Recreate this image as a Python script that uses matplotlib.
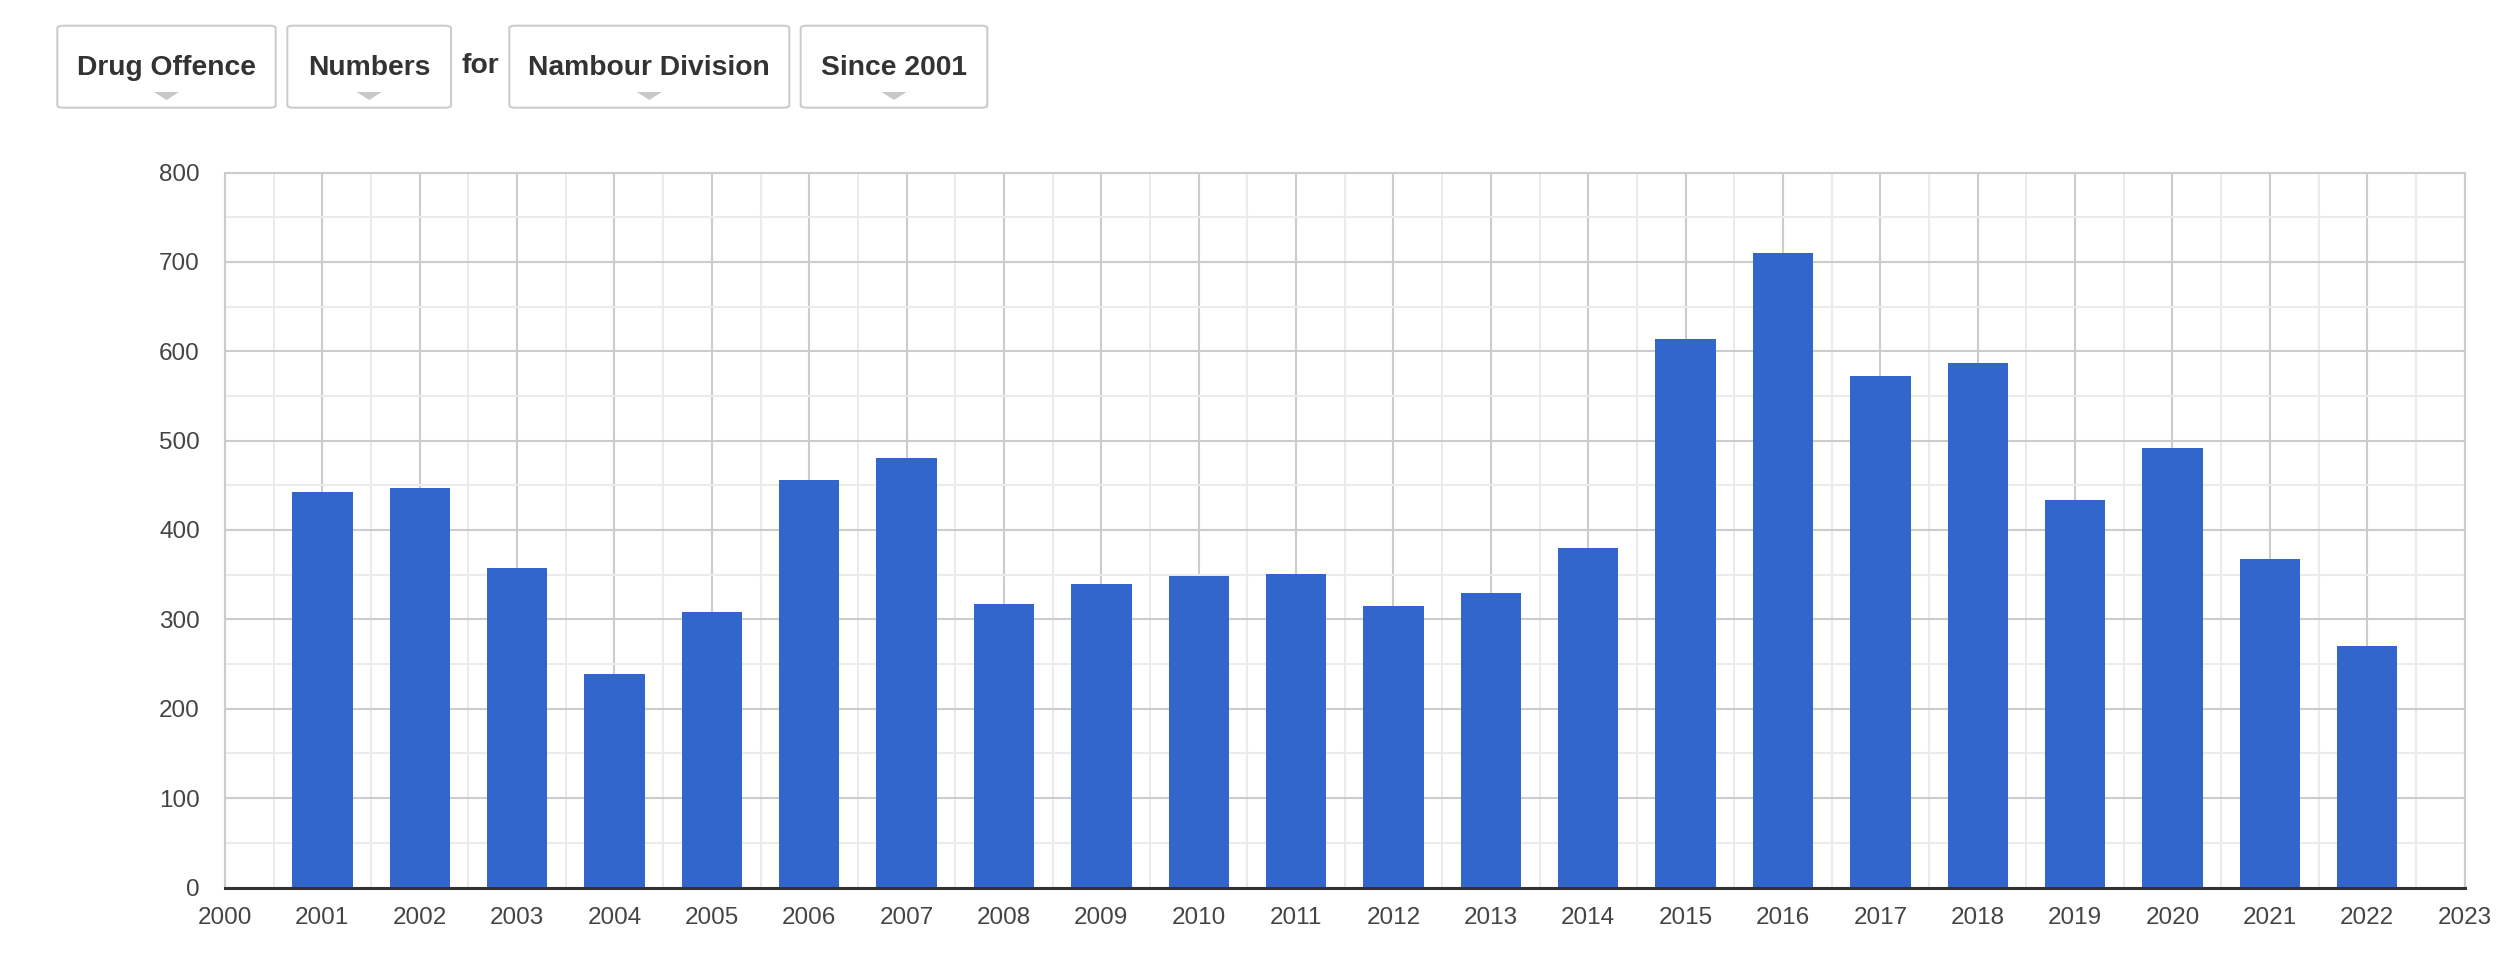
import matplotlib
matplotlib.use("Agg")
import matplotlib.pyplot as plt
from matplotlib.patches import FancyBboxPatch, Polygon
from matplotlib.ticker import MultipleLocator

plt.rcParams['font.family'] = ['Liberation Sans', 'DejaVu Sans']

# ---- data ----
years = [2001, 2002, 2003, 2004, 2005, 2006, 2007, 2008, 2009, 2010, 2011,
         2012, 2013, 2014, 2015, 2016, 2017, 2018, 2019, 2020, 2021, 2022]
counts = [443, 447, 358, 239, 308, 456, 481, 317, 340, 349, 351,
          315, 330, 380, 614, 710, 572, 587, 434, 492, 367, 270]
button_labels = ["Drug Offence", "Numbers", "Nambour Division", "Since 2001"]
connector_word = "for"
x_ticks = list(range(2000, 2024))
y_ticks = list(range(0, 801, 100))

W, H = 2500, 958
DPI = 100
fig = plt.figure(figsize=(W / DPI, H / DPI), dpi=DPI)
fig.patch.set_facecolor('white')

def fx(px):
    return px / W

def fy(py_top):
    return 1 - py_top / H

# ---- axes ----
left, right, top, bottom = 225, 2464.6, 172.5, 887.5
ax = fig.add_axes([fx(left), fy(bottom), fx(right - left), (bottom - top) / H])
ax.bar(years, counts, width=0.62, color='#3366cc', zorder=3)
ax.set_xlim(2000, 2023)
ax.set_ylim(0, 800)
ax.set_xticks(x_ticks)
ax.set_xticklabels([str(t) for t in x_ticks])
ax.set_yticks(y_ticks)
ax.set_yticklabels([str(t) for t in y_ticks])
ax.xaxis.set_minor_locator(MultipleLocator(0.5))
ax.yaxis.set_minor_locator(MultipleLocator(50))
ax.set_axisbelow(True)
ax.grid(which='major', color='#cccccc', linewidth=1.5, zorder=0)
ax.grid(which='minor', color='#ebebeb', linewidth=1.5, zorder=0)
ax.tick_params(which='both', length=0)
ax.tick_params(axis='x', labelsize=17.5, labelcolor='#444444', pad=14)
ax.tick_params(axis='y', labelsize=17.5, labelcolor='#444444', pad=18)
for s in ['left', 'top', 'right']:
    ax.spines[s].set_color('#cccccc')
    ax.spines[s].set_linewidth(1.5)
ax.spines['bottom'].set_color('#333333')
ax.spines['bottom'].set_linewidth(2.2)
ax.spines['bottom'].set_zorder(4)

# ---- buttons ----
boxes = [(57.3, 275.7), (287.3, 451.0), (509.3, 789.3), (800.7, 987.3)]
btop, bbot = 25.7, 107.7
for (x0, x1), lab in zip(boxes, button_labels):
    patch = FancyBboxPatch((fx(x0), fy(bbot)), fx(x1 - x0), (bbot - btop) / H,
                           boxstyle="round,pad=0,rounding_size=0.0025",
                           transform=fig.transFigure, facecolor='white',
                           edgecolor='#cccccc', linewidth=1.5)
    fig.patches.append(patch)
    cx = (x0 + x1) / 2
    fig.text(fx(cx), fy(68), lab, ha='center', va='center',
             fontsize=20.3, fontweight='bold', color='#333333')
    tri = Polygon([(fx(cx - 12.5), fy(92)), (fx(cx + 12.5), fy(92)), (fx(cx), fy(100))],
                  closed=True, transform=fig.transFigure, facecolor='#c8c8c8',
                  edgecolor='none')
    fig.patches.append(tri)

fig.text(fx(480.5), fy(66), connector_word, ha='center', va='center',
         fontsize=20.3, fontweight='bold', color='#333333')

fig.savefig('out.png', dpi=DPI, facecolor='white')
